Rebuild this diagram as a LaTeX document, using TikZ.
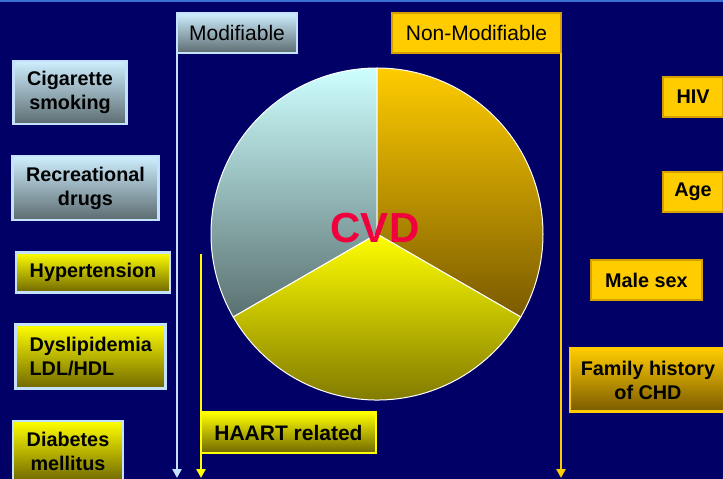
\documentclass[tikz,border=0pt]{standalone}
\usepackage{fontspec}
\setmainfont{Liberation Sans}
\usetikzlibrary{arrows.meta}

\definecolor{navy}{RGB}{0,0,102}
\definecolor{topband}{RGB}{60,112,214}
\definecolor{paleblue}{RGB}{206,238,255}
\definecolor{slate}{RGB}{92,108,112}
\definecolor{edgeblue}{RGB}{196,226,255}
\definecolor{brightyellow}{RGB}{255,255,0}
\definecolor{olive}{RGB}{112,104,0}
\definecolor{gold}{RGB}{255,204,0}
\definecolor{goldedge}{RGB}{214,160,0}
\definecolor{bronze}{RGB}{122,90,0}
\definecolor{cvdred}{RGB}{240,0,60}
\definecolor{cyanpale}{RGB}{206,255,255}
\definecolor{tealgray}{RGB}{90,112,112}

\newcommand{\boldlabel}{\fontsize{19.8}{24}\selectfont\bfseries}
\newcommand{\headlabel}{\fontsize{21}{24}\selectfont}

\tikzset{
  box/.style={rectangle, inner sep=0pt, outer sep=0pt, align=center,
    text=black, font=\boldlabel},
  graybox/.style={box, draw=edgeblue, line width=2.5pt,
    top color=paleblue, bottom color=slate},
  yellowbox/.style={box, draw=edgeblue, line width=2.5pt,
    top color=brightyellow, bottom color=olive},
  goldbox/.style={box, draw=goldedge, line width=1.2pt, fill=gold},
  bronzebox/.style={box, draw=gold, line width=2.5pt,
    top color=gold, bottom color=bronze},
  flowline/.style={line width=2.5pt, -{Triangle[width=9pt,length=9pt]}},
  slice/.style={draw=white, line width=1pt}
}

\begin{document}
\begin{tikzpicture}[x=1pt,y=-1pt]
  \useasboundingbox (0,0) rectangle (723,479);
  \clip (0,0) rectangle (723,479);
  \fill[navy] (0,0) rectangle (723,479);
  \fill[topband] (0,0) rectangle (723,2);

  % pie of three sectors around the centre (377,234), radius 166
  \coordinate (pc) at (377,234);
  \shade[slice, top color=cyanpale, bottom color=tealgray]
    (pc) -- (377,68) arc[start angle=-90, end angle=-210, radius=166] -- cycle;
  \shade[slice, top color=gold, bottom color=bronze]
    (pc) -- (377,68) arc[start angle=-90, end angle=30, radius=166] -- cycle;
  \shade[slice, top color=brightyellow, bottom color=olive]
    (pc) -- (233.24,317) arc[start angle=150, end angle=30, radius=166] -- cycle;
  \node[text=cvdred, font=\fontsize{42}{44}\selectfont\bfseries] (cvd) at (375,228) {CVD};

  % group headers
  \node[graybox, font=\headlabel, minimum width=120, minimum height=40] (mod) at (237,33) {Modifiable};
  \node[goldbox, font=\headlabel, minimum width=169, minimum height=40] (nonmod) at (476.5,33) {Non-Modifiable};

  % modifiable factors
  \node[graybox, minimum width=113, minimum height=63] (cig) at (70,92.5) {Cigarette\\smoking};
  \node[graybox, minimum width=146, minimum height=64] (rec) at (85.5,188) {Recreational\\drugs};
  \node[yellowbox, minimum width=154, minimum height=40] (hyp) at (93,272.3) {Hypertension};
  \node[yellowbox, align=left, minimum width=150, minimum height=64] (dys) at (90.7,356.3) {Dyslipidemia\\LDL/HDL};
  \node[yellowbox, minimum width=110, minimum height=60] (dia) at (68,451) {Diabetes\\mellitus};

  % non-modifiable factors
  \node[goldbox, minimum width=60, minimum height=40] (hiv) at (693,97) {HIV};
  \node[goldbox, minimum width=60, minimum height=40] (age) at (693,192) {Age};
  \node[goldbox, minimum width=111, minimum height=40] (male) at (646.5,280) {Male sex};
  \node[bronzebox, minimum width=156, minimum height=63] (fam) at (648,380) {Family history\\of CHD};

  % downward arrows
  \coordinate (modend) at (177,478);
  \coordinate (nonend) at (561,478);
  \coordinate (hstart) at (201,254);
  \coordinate (hend) at (201,478);
  \draw[flowline, edgeblue] (mod.south west) -- (modend);
  \draw[flowline, gold] (nonmod.south east) -- (nonend);
  \draw[flowline, brightyellow] (hstart) -- (hend);

  \node[box, draw=brightyellow, line width=2.5pt, top color=brightyellow, bottom color=olive,
    font=\fontsize{21}{24}\selectfont\bfseries, minimum width=175, minimum height=41] (haart) at (288.5,432.5) {HAART related};
\end{tikzpicture}
\end{document}
